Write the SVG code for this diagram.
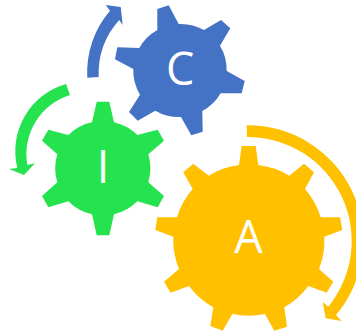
<svg xmlns="http://www.w3.org/2000/svg" width="356" height="332" viewBox="0 0 356 332">
<style>
.c{fill:#4472C4}.i{fill:#25E34F}.a{fill:#FFC000}
text{font-family:"Open Sans","Liberation Sans",sans-serif;font-size:45px;fill:#fff;text-anchor:middle}
</style>
<rect width="356" height="332" fill="#fff"/>
<g id="connectors">
<path class="c" d="M87.3,77.7A95,95 0 0 1 110,10.7L105.7,5L120.7,7L122.7,25L119.3,20A80,80 0 0 0 98.7,77Z"/>
<path class="i" d="M66,84A70,70 0 0 0 17.3,168L9,169L24,175L35,163.3L27.3,165A62,62 0 0 1 70,95Z"/>
<path class="a" d="M246.7,125.3A115.3,115.3 0 0 1 336,315L341.7,321L325.7,318.3L322.7,302L328.3,306.7A104,104 0 0 0 247,137Z"/>
</g>
<g id="node-c">
<path class="c" d="M157.3,30L157.3,9L168.7,5.3L178.7,24A47,47 0 0 1 204,30L221,20L230.3,28.3L220,45.7A47,47 0 0 1 226.7,71L244.7,81L241.7,93.3L220.7,93.3A47,47 0 0 1 202.3,111L202.7,131.7L191.3,135.3L181,117A47,47 0 0 1 155.3,110.7L137.7,120.7L129,112L140,94.7A47,47 0 0 1 133.3,69L115,59.3L117.3,47.3L139.3,48A47,47 0 0 1 157.3,30Z"/>
<text x="180.3" y="84.5">C</text>
</g>
<g id="node-i">
<path class="i" d="M92,122.3L96.7,101.7L109.3,101.7L114,122.3A47.7,47.7 0 0 1 137.3,135L157.7,129.7L164,140.7L148.3,154.3A47.7,47.7 0 0 1 148.3,182.3L164,196L157.7,207.3L137.3,201.3A47.7,47.7 0 0 1 114,214.3L109.3,235.3L96.7,235.3L92,214.3A47.7,47.7 0 0 1 68.3,201.3L48.3,207.3L42,196L57.3,182.3A47.7,47.7 0 0 1 57.3,154.3L42,140.7L48.3,129.7L68.3,135A47.7,47.7 0 0 1 92,122.3Z"/>
<text x="103" y="182.7">I</text>
</g>
<g id="node-a">
<path class="a" d="M239,165L241.7,146L255.7,146L258.3,165A75.5,75.5 0 0 1 289.3,175.7L304,163.7L314,172.3L305,189A75.5,75.5 0 0 1 320.7,217.3L340,217.3L342.3,230L324.3,236.7A75.5,75.5 0 0 1 319,269L333.3,281.7L326.7,292.7L308.3,286A75.5,75.5 0 0 1 284.3,307.3L287,326.7L274.3,330.7L265,314A75.5,75.5 0 0 1 232.3,314L222.7,330.7L210.3,326L213.3,307.3A75.5,75.5 0 0 1 189,286L170.7,292.7L164,281.7L179,269A75.5,75.5 0 0 1 173.3,236.7L155.3,230L157.3,217.3L177,217.3A75.5,75.5 0 0 1 192.7,189L183.3,172.3L193.3,163.7L208.7,175.7A75.5,75.5 0 0 1 239,165Z"/>
<text x="248.5" y="252.7">A</text>
</g>
</svg>
